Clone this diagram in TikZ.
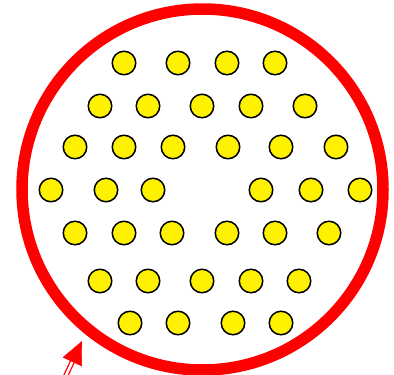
\documentclass[tikz,border=0pt]{standalone}
\usepackage{tikz}
\usetikzlibrary{arrows.meta, calc}

\begin{document}
\begin{tikzpicture}[
    x=1pt, y=-1pt,
    ball/.style={circle, draw=black, fill=yellow, line width=1.5pt, minimum size=23.5pt, inner sep=0pt},
    ring/.style={draw=red, line width=11.5pt},
    shaft/.style={red, double, double distance=2.6pt, line width=1.3pt},
    arrowhead/.style={red, -{Triangle[length=23pt, width=21pt]}}
]
    \useasboundingbox (0,0) rectangle (394,375);

    % Outer ring
    \draw[ring] (202.5,189.5) circle[radius=180.5];

    % Rows of balls (top to bottom)
    \foreach \x [count=\i] in {124,178,227,275}
        \node[ball] (ra\i) at (\x,63) {};
    \foreach \x [count=\i] in {100,148,202,251,305}
        \node[ball] (rb\i) at (\x,106) {};
    \foreach \x [count=\i] in {75,124,173,228,281,336}
        \node[ball] (rc\i) at (\x,147) {};
    \foreach \x [count=\i] in {51,106,153,261,311,360}
        \node[ball] (rd\i) at (\x,190) {};
    \foreach \x [count=\i] in {75,124,172,227,275,329}
        \node[ball] (re\i) at (\x,233) {};
    \foreach \x [count=\i] in {100,148,202,251,299}
        \node[ball] (rf\i) at (\x,281) {};
    \foreach \x [count=\i] in {130,178,233,281}
        \node[ball] (rg\i) at (\x,323) {};

    % Incoming arrow at the lower left
    \coordinate (tip) at (82,341);
    \coordinate (tail) at (61,386);
    \draw[shaft, shorten >=18pt] (tail) -- (tip);
    \draw[arrowhead] ($(tip)!1pt!(tail)$) -- (tip);

\end{tikzpicture}
\end{document}
